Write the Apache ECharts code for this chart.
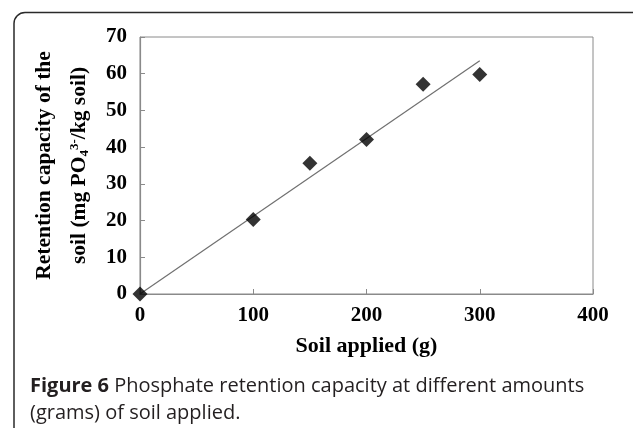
<!DOCTYPE html>
<html>
<head>
<meta charset="utf-8">
<script src="https://cdn.jsdelivr.net/npm/echarts@6/dist/echarts.min.js"></script>
<style>
  html, body { margin: 0; padding: 0; background: #fff; }
  #chart { width: 633px; height: 428px; }
</style>
</head>
<body>
<div id="chart"></div>
<script>
// soil applied (g) vs retention capacity (mg PO4 3-/kg soil)
const soilApplied = [0, 100, 150, 200, 250, 300];
const retention = [0, 20.3, 35.6, 42.1, 57.1, 59.8];
// linear trend line, read at its two ends
const trendX = [0, 300];
const trendY = [0, 63.5];
const xTicks = [0, 100, 200, 300, 400];

const serif = '"Liberation Serif", "Times New Roman", serif';
const mychart = echarts.init(document.getElementById('chart'));

const option = {
  animation: false,
  grid: { left: 140, right: 40, top: 37, bottom: 134, show: true, borderColor: '#8a8a8a', borderWidth: 1 },
  xAxis: {
    type: 'value',
    min: 0, max: 400, interval: 100,
    name: 'Soil applied (g)',
    nameLocation: 'middle',
    nameGap: 41,
    nameTextStyle: { fontFamily: serif, fontWeight: 'bold', fontSize: 22, color: '#000' },
    axisLine: { lineStyle: { color: '#8a8a8a', width: 1.2 } },
    axisTick: { inside: true, length: 5, lineStyle: { color: '#8a8a8a' } },
    axisLabel: { fontFamily: serif, fontWeight: 'bold', fontSize: 21, color: '#000', margin: 11,
      formatter: v => xTicks.indexOf(v) >= 0 ? String(v) : '' },
    splitLine: { show: false }
  },
  yAxis: {
    type: 'value',
    min: 0, max: 70, interval: 10,
    name: '{a|Retention capacity of the}\n{a|soil (mg PO}{sub|4}{sup|3-}{a|/kg soil)}',
    nameLocation: 'middle',
    nameRotate: 90,
    nameGap: 43,
    nameTextStyle: {
      rich: {
        a: { fontFamily: serif, fontWeight: 'bold', fontSize: 21.5, color: '#000', lineHeight: 35 },
        sub: { fontFamily: serif, fontWeight: 'bold', fontSize: 13, color: '#000', lineHeight: 35, padding: [10, 0, 0, 0] },
        sup: { fontFamily: serif, fontWeight: 'bold', fontSize: 13, color: '#000', lineHeight: 35, padding: [0, 0, 10, 0] }
      }
    },
    axisLine: { show: true, lineStyle: { color: '#8a8a8a', width: 1.2 } },
    axisTick: { show: true, inside: true, length: 5, lineStyle: { color: '#8a8a8a' } },
    axisLabel: { fontFamily: serif, fontWeight: 'bold', fontSize: 21, color: '#000', margin: 13 },
    splitLine: { show: false }
  },
  series: [
    {
      type: 'line',
      data: trendX.map((x, i) => [x, trendY[i]]),
      symbol: 'none',
      lineStyle: { color: '#707070', width: 1.2 },
      z: 2
    },
    {
      type: 'scatter',
      data: soilApplied.map((x, i) => [x, retention[i]]),
      symbol: 'diamond',
      symbolSize: [15, 15],
      itemStyle: { color: '#000' },
      z: 3
    }
  ],
  graphic: [
    {
      type: 'rect',
      shape: { x: 14, y: 12.5, width: 630, height: 500, r: 11 },
      style: { fill: 'none', stroke: '#2a2a2a', lineWidth: 1.5 },
      silent: true
    },
    {
      type: 'text',
      left: 30, top: 373,
      style: {
        text: '{b|Figure 6} Phosphate retention capacity at different amounts\n(grams) of soil applied.',
        font: '20px "Open Sans", sans-serif',
        fill: '#231f20',
        lineHeight: 27,
        rich: {
          b: { fontFamily: '"Open Sans", sans-serif', fontWeight: 'bold', fontSize: 20, fill: '#231f20', lineHeight: 27 }
        }
      }
    }
  ]
};
mychart.setOption(option, true);
</script>
</body>
</html>
